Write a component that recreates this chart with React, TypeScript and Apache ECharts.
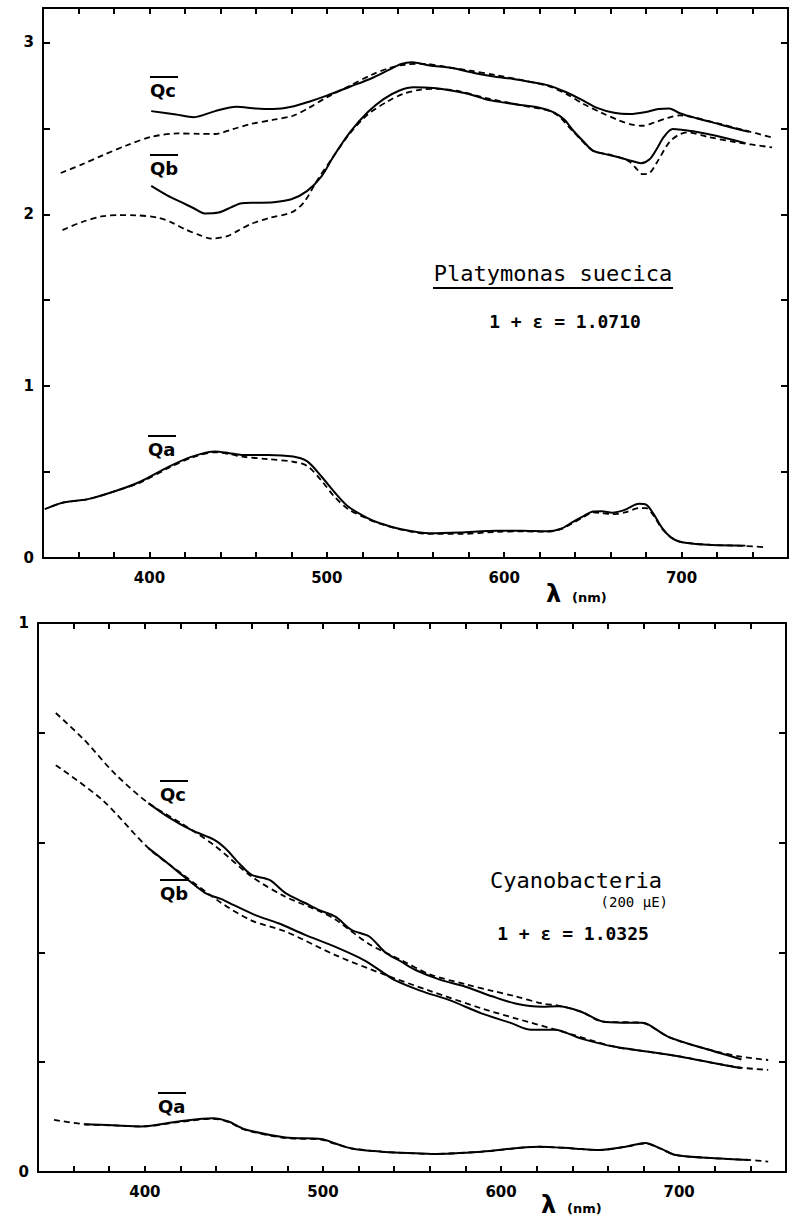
import React, { useEffect, useRef } from 'react';
import * as echarts from 'echarts';

// Wavelength range and tick spacing (nm)
const WL_MIN = 340;
const WL_MAX = 760;
const WL_STEP = 20;
const WL_LABELS = [400, 500, 600, 700];

// Platymonas suecica: measured (solid) and computed (dashed) efficiency factors
const platyQcMeasured = [
  [401, 2.6], [415, 2.58], [425, 2.565], [437, 2.6], [449, 2.626], [460, 2.615], [470, 2.612],
  [480, 2.625], [490, 2.655], [500, 2.69], [513, 2.742], [525, 2.79], [535, 2.84], [542, 2.875],
  [548, 2.885], [558, 2.865], [570, 2.852], [583, 2.822], [595, 2.8], [605, 2.787], [615, 2.77],
  [625, 2.75], [635, 2.71], [643, 2.67], [652, 2.62], [662, 2.59], [671, 2.583], [680, 2.595],
  [687, 2.612], [693, 2.616], [699, 2.588], [708, 2.56], [717, 2.536], [728, 2.505], [738, 2.48],
];
const platyQcModel = [
  [350, 2.24], [362, 2.29], [373, 2.34], [387, 2.4], [401, 2.45], [416, 2.47], [428, 2.468],
  [437, 2.467], [447, 2.495], [457, 2.525], [470, 2.55], [481, 2.573], [490, 2.62], [500, 2.68],
  [513, 2.748], [525, 2.81], [535, 2.85], [545, 2.872], [555, 2.875], [568, 2.855], [581, 2.835],
  [595, 2.81], [610, 2.78], [625, 2.745], [635, 2.7], [645, 2.64], [655, 2.59], [665, 2.545],
  [672, 2.522], [678, 2.515], [685, 2.535], [692, 2.56], [699, 2.575], [708, 2.56], [720, 2.53],
  [735, 2.49], [751, 2.447],
];
const platyQbMeasured = [
  [401, 2.165], [410, 2.11], [418, 2.07], [425, 2.035], [431, 2.005], [439, 2.01], [446, 2.04],
  [452, 2.064], [460, 2.067], [470, 2.07], [480, 2.087], [489, 2.136], [497, 2.22], [504, 2.34],
  [513, 2.476], [523, 2.593], [532, 2.67], [541, 2.72], [549, 2.739], [560, 2.735], [570, 2.72],
  [580, 2.7], [590, 2.668], [600, 2.65], [609, 2.636], [620, 2.62], [628, 2.593], [634, 2.55],
  [639, 2.486], [645, 2.42], [650, 2.37], [657, 2.35], [665, 2.33], [672, 2.31], [677, 2.297],
  [682, 2.32], [686, 2.38], [690, 2.45], [695, 2.496], [701, 2.49], [708, 2.48], [720, 2.455],
  [736, 2.414],
];
const platyQbModel = [
  [351, 1.908], [362, 1.955], [373, 1.987], [383, 1.995], [392, 1.994], [405, 1.98], [413, 1.95],
  [420, 1.913], [428, 1.88], [435, 1.858], [444, 1.873], [450, 1.905], [457, 1.942], [468, 1.98],
  [480, 2.01], [487, 2.068], [495, 2.204], [504, 2.34], [513, 2.47], [523, 2.58], [534, 2.655],
  [543, 2.7], [553, 2.725], [562, 2.73], [575, 2.715], [590, 2.675], [609, 2.635], [628, 2.59],
  [639, 2.48], [650, 2.37], [660, 2.345], [670, 2.31], [675, 2.26], [678, 2.233], [682, 2.24],
  [686, 2.3], [693, 2.418], [698, 2.46], [703, 2.476], [715, 2.45], [730, 2.42], [751, 2.389],
];
const platyQaMeasured = [
  [341, 0.284], [351, 0.322], [366, 0.344], [383, 0.397], [395, 0.445], [411, 0.532], [424, 0.59],
  [437, 0.62], [445, 0.61], [452, 0.6], [467, 0.6], [481, 0.59], [489, 0.562], [497, 0.474],
  [504, 0.387], [512, 0.3], [523, 0.232], [530, 0.202], [542, 0.167], [558, 0.144], [575, 0.148],
  [596, 0.158], [610, 0.158], [624, 0.155], [632, 0.17], [639, 0.212], [645, 0.245], [650, 0.27],
  [655, 0.272], [661, 0.264], [668, 0.28], [676, 0.315], [680, 0.31], [684, 0.26], [689, 0.175],
  [694, 0.12], [699, 0.095], [708, 0.082], [717, 0.076], [736, 0.072],
];
const platyQaModel = [
  [345, 0.3], [351, 0.322], [366, 0.344], [383, 0.397], [395, 0.44], [411, 0.525], [424, 0.585],
  [437, 0.615], [445, 0.605], [452, 0.59], [467, 0.575], [481, 0.56], [489, 0.535], [497, 0.45],
  [504, 0.36], [512, 0.285], [523, 0.228], [530, 0.2], [542, 0.165], [558, 0.14], [575, 0.14],
  [596, 0.152], [610, 0.155], [624, 0.153], [632, 0.168], [639, 0.205], [645, 0.24], [650, 0.265],
  [655, 0.262], [661, 0.255], [668, 0.265], [676, 0.29], [680, 0.29], [684, 0.25], [689, 0.17],
  [694, 0.12], [699, 0.095], [708, 0.082], [717, 0.076], [736, 0.07], [748, 0.062],
];

// Cyanobacteria (200 µE)
const cyanoQcMeasured = [
  [402, 0.672], [413, 0.647], [426, 0.623], [439, 0.605], [445, 0.59], [453, 0.562], [460, 0.541],
  [470, 0.532], [479, 0.508], [490, 0.49], [498, 0.477], [507, 0.465], [516, 0.441], [526, 0.429],
  [535, 0.4], [544, 0.383], [552, 0.368], [566, 0.35], [580, 0.3375], [595, 0.32], [608, 0.307],
  [623, 0.301], [632, 0.302], [645, 0.292], [657, 0.274], [668, 0.272], [679, 0.272], [683, 0.268],
  [694, 0.246], [711, 0.228], [735, 0.205],
];
const cyanoQcModel = [
  [350, 0.836], [366, 0.787], [383, 0.726], [402, 0.672], [420, 0.636], [439, 0.595], [460, 0.538],
  [478, 0.503], [498, 0.475], [507, 0.46], [526, 0.415], [544, 0.386], [560, 0.36], [580, 0.342],
  [595, 0.33], [608, 0.32], [623, 0.307], [632, 0.303], [645, 0.292], [657, 0.274], [679, 0.272],
  [683, 0.268], [694, 0.246], [711, 0.228], [720, 0.22], [735, 0.21], [750, 0.204],
];
const cyanoQbMeasured = [
  [402, 0.59], [413, 0.562], [422, 0.538], [434, 0.508], [443, 0.497], [450, 0.486], [462, 0.468],
  [475, 0.453], [490, 0.432], [507, 0.41], [523, 0.386], [533, 0.365], [540, 0.35], [555, 0.33],
  [571, 0.313], [589, 0.289], [605, 0.272], [617, 0.259], [630, 0.259], [645, 0.243], [664, 0.228],
  [683, 0.219], [701, 0.21], [720, 0.198], [735, 0.189],
];
const cyanoQbModel = [
  [350, 0.741], [376, 0.678], [402, 0.59], [420, 0.545], [443, 0.49], [460, 0.458], [479, 0.438],
  [507, 0.395], [535, 0.359], [560, 0.33], [589, 0.298], [608, 0.28], [630, 0.26], [664, 0.228],
  [683, 0.219], [701, 0.21], [720, 0.198], [735, 0.19], [750, 0.186],
];
const cyanoQaMeasured = [
  [366, 0.087], [382, 0.085], [398, 0.083], [419, 0.092], [438, 0.098], [447, 0.092], [456, 0.078],
  [479, 0.063], [499, 0.06], [507, 0.052], [516, 0.043], [533, 0.037], [544, 0.035], [561, 0.033],
  [589, 0.037], [621, 0.046], [640, 0.043], [655, 0.04], [670, 0.046], [681, 0.053], [690, 0.042],
  [698, 0.031], [720, 0.025], [739, 0.022],
];
const cyanoQaModel = [
  [349, 0.095], [366, 0.087], [382, 0.085], [398, 0.083], [419, 0.091], [438, 0.097], [447, 0.091],
  [456, 0.077], [479, 0.062], [499, 0.059], [507, 0.051], [516, 0.043], [533, 0.037], [544, 0.035],
  [561, 0.033], [589, 0.037], [621, 0.046], [640, 0.043], [655, 0.04], [670, 0.046], [681, 0.052],
  [690, 0.042], [698, 0.031], [720, 0.025], [739, 0.022], [750, 0.019],
];

const INK = '#000';
const TICK_FONT = 'DejaVu Sans';
const MONO = 'DejaVu Sans Mono';

const isWhole = (v: number) => Math.abs(v - Math.round(v)) < 1e-9;

function xAxisPair(gridIndex: number) {
  const common = {
    type: 'value' as const,
    gridIndex,
    min: WL_MIN,
    max: WL_MAX,
    interval: WL_STEP,
    splitLine: { show: false },
    axisLine: { show: true, onZero: false, lineStyle: { color: INK, width: 2 } },
    axisTick: { show: true, inside: true, length: 6, lineStyle: { color: INK, width: 2 } },
  };
  return [
    {
      ...common,
      position: 'bottom' as const,
      axisLabel: {
        color: INK,
        fontFamily: TICK_FONT,
        fontWeight: 'bold' as const,
        fontSize: 15,
        margin: 12,
        formatter: (v: number) => (WL_LABELS.includes(v) ? String(v) : ''),
      },
    },
    { ...common, position: 'top' as const, axisLabel: { show: false } },
  ];
}

function yAxisPair(gridIndex: number, max: number, interval: number) {
  const common = {
    type: 'value' as const,
    gridIndex,
    min: 0,
    max,
    interval,
    splitLine: { show: false },
    axisLine: { show: true, onZero: false, lineStyle: { color: INK, width: 2 } },
    axisTick: { show: true, inside: true, length: 7, lineStyle: { color: INK, width: 2 } },
  };
  return [
    {
      ...common,
      position: 'left' as const,
      axisLabel: {
        color: INK,
        fontFamily: TICK_FONT,
        fontWeight: 'bold' as const,
        fontSize: 15,
        margin: 9,
        showMaxLabel: true,
        formatter: (v: number) => (isWhole(v) ? String(Math.round(v)) : ''),
      },
    },
    { ...common, position: 'right' as const, axisLabel: { show: false } },
  ];
}

function curve(name: string, data: number[][], dashed: boolean, axisIndex: number) {
  return {
    name,
    type: 'line' as const,
    xAxisIndex: axisIndex,
    yAxisIndex: axisIndex,
    data,
    smooth: 0.3,
    showSymbol: false,
    symbol: 'none',
    lineStyle: { color: INK, width: dashed ? 1.8 : 2, type: dashed ? [6, 4] : 'solid' },
    z: dashed ? 2 : 3,
  };
}

// "Q" label with an overbar
function qLabel(x: number, y: number, sub: string) {
  return {
    type: 'group',
    x,
    y,
    children: [
      { type: 'line', shape: { x1: 0, y1: -13, x2: 28, y2: -13 }, style: { stroke: INK, lineWidth: 2 } },
      {
        type: 'text',
        x: 0,
        y: 0,
        style: {
          text: 'Q' + sub,
          font: `bold 18px "${TICK_FONT}"`,
          fill: INK,
          textAlign: 'left',
          textVerticalAlign: 'middle',
        },
      },
    ],
  };
}

function plainText(x: number, y: number, text: string, font: string, align = 'center') {
  return {
    type: 'text',
    x,
    y,
    style: { text, font, fill: INK, textAlign: align, textVerticalAlign: 'middle' },
  };
}

function lambdaLabel(x: number, y: number) {
  return [
    plainText(x, y, 'λ', `bold 24px "${TICK_FONT}"`, 'left'),
    plainText(x + 26, y + 3, '(nm)', `bold 13px "${TICK_FONT}"`, 'left'),
  ];
}

export default function App() {
  const ref = useRef<HTMLDivElement>(null);

  useEffect(() => {
    document.body.style.margin = '0';
    const chart = echarts.init(ref.current!, null, { renderer: 'svg' });

    const [xb0, xt0] = xAxisPair(0);
    const [xb1, xt1] = xAxisPair(1);
    const [yl0, yr0] = yAxisPair(0, 3.2, 0.5);
    const [yl1, yr1] = yAxisPair(1, 1, 0.2);

    chart.setOption({
      animation: false,
      backgroundColor: '#fff',
      grid: [
        { left: 43, right: 10, top: 8, height: 550 },
        { left: 38, right: 12, top: 623, height: 549 },
      ],
      xAxis: [xb0, xt0, xb1, xt1],
      yAxis: [yl0, yr0, yl1, yr1],
      series: [
        curve('Platymonas Qc', platyQcMeasured, false, 0),
        curve('Platymonas Qc model', platyQcModel, true, 0),
        curve('Platymonas Qb', platyQbMeasured, false, 0),
        curve('Platymonas Qb model', platyQbModel, true, 0),
        curve('Platymonas Qa', platyQaMeasured, false, 0),
        curve('Platymonas Qa model', platyQaModel, true, 0),
        curve('Cyanobacteria Qc', cyanoQcMeasured, false, 2),
        curve('Cyanobacteria Qc model', cyanoQcModel, true, 2),
        curve('Cyanobacteria Qb', cyanoQbMeasured, false, 2),
        curve('Cyanobacteria Qb model', cyanoQbModel, true, 2),
        curve('Cyanobacteria Qa', cyanoQaMeasured, false, 2),
        curve('Cyanobacteria Qa model', cyanoQaModel, true, 2),
      ],
      graphic: [
        qLabel(150, 90, 'c'),
        qLabel(150, 168, 'b'),
        qLabel(148, 449, 'a'),
        plainText(553, 273, 'Platymonas suecica', `22px "${MONO}"`),
        { type: 'line', shape: { x1: 433, y1: 288, x2: 673, y2: 288 }, style: { stroke: INK, lineWidth: 2 } },
        plainText(565, 321, '1 + ε = 1.0710', `bold 18px "${MONO}"`),
        ...lambdaLabel(546, 594),

        qLabel(160, 794, 'c'),
        qLabel(160, 893, 'b'),
        qLabel(158, 1106, 'a'),
        plainText(576, 880, 'Cyanobacteria', `22px "${MONO}"`),
        plainText(668, 902, '(200 μE)', `14px "${MONO}"`, 'right'),
        plainText(573, 933, '1 + ε = 1.0325', `bold 18px "${MONO}"`),
        ...lambdaLabel(541, 1205),
      ],
    });

    return () => chart.dispose();
  }, []);

  return <div ref={ref} style={{ width: 798, height: 1222 }} />;
}
